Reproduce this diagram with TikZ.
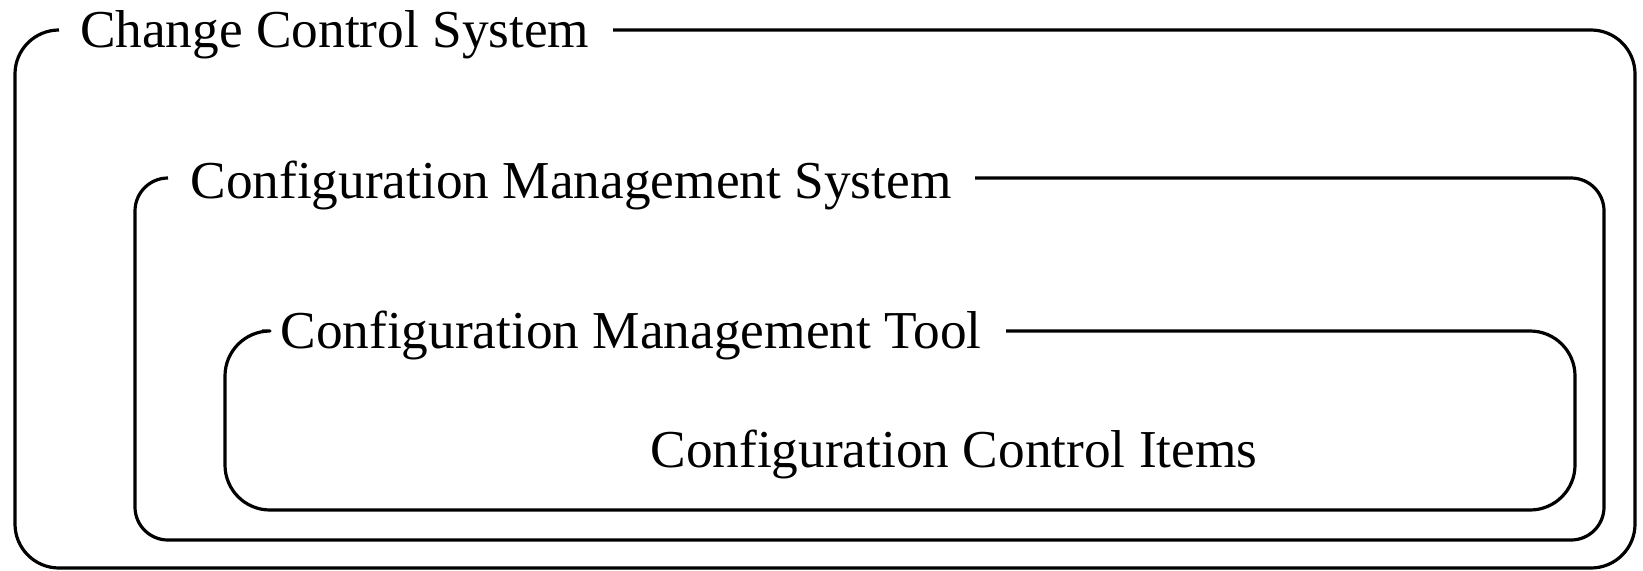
\documentclass[tikz,border=0pt]{standalone}
\usepackage{fontspec}
\setmainfont{Liberation Serif}
\begin{document}
\begin{tikzpicture}[x=1pt,y=-1pt,
  frame/.style={line width=3.2pt,line join=round},
  title/.style={anchor=base west,inner sep=0pt,outer sep=0pt,font=\fontsize{53.3}{60}\selectfont}]
\useasboundingbox (0,0) rectangle (1643,570);
% outer box
\draw[frame,rounded corners=44pt] (613,30) -- (1635,30) -- (1635,568) -- (15,568) -- (15,30) -- (59,30);
\node[title] (ccs) at (80,47.5) {Change Control System};
% box 2
\draw[frame,rounded corners=33pt] (975,178) -- (1604,178) -- (1604,540) -- (135,540) -- (135,178) -- (168,178);
\node[title] (cms) at (190.5,198) {Configuration Management System};
% box 3
\draw[frame,rounded corners=45pt] (1006,331) -- (1575,331) -- (1575,510) -- (225,510) -- (225,331) -- (262,331);
\node[title] (cmt) at (280.5,348) {Configuration Management Tool};
% items
\node[title] (cci) at (650.5,467) {Configuration Control Items};
\end{tikzpicture}
\end{document}
